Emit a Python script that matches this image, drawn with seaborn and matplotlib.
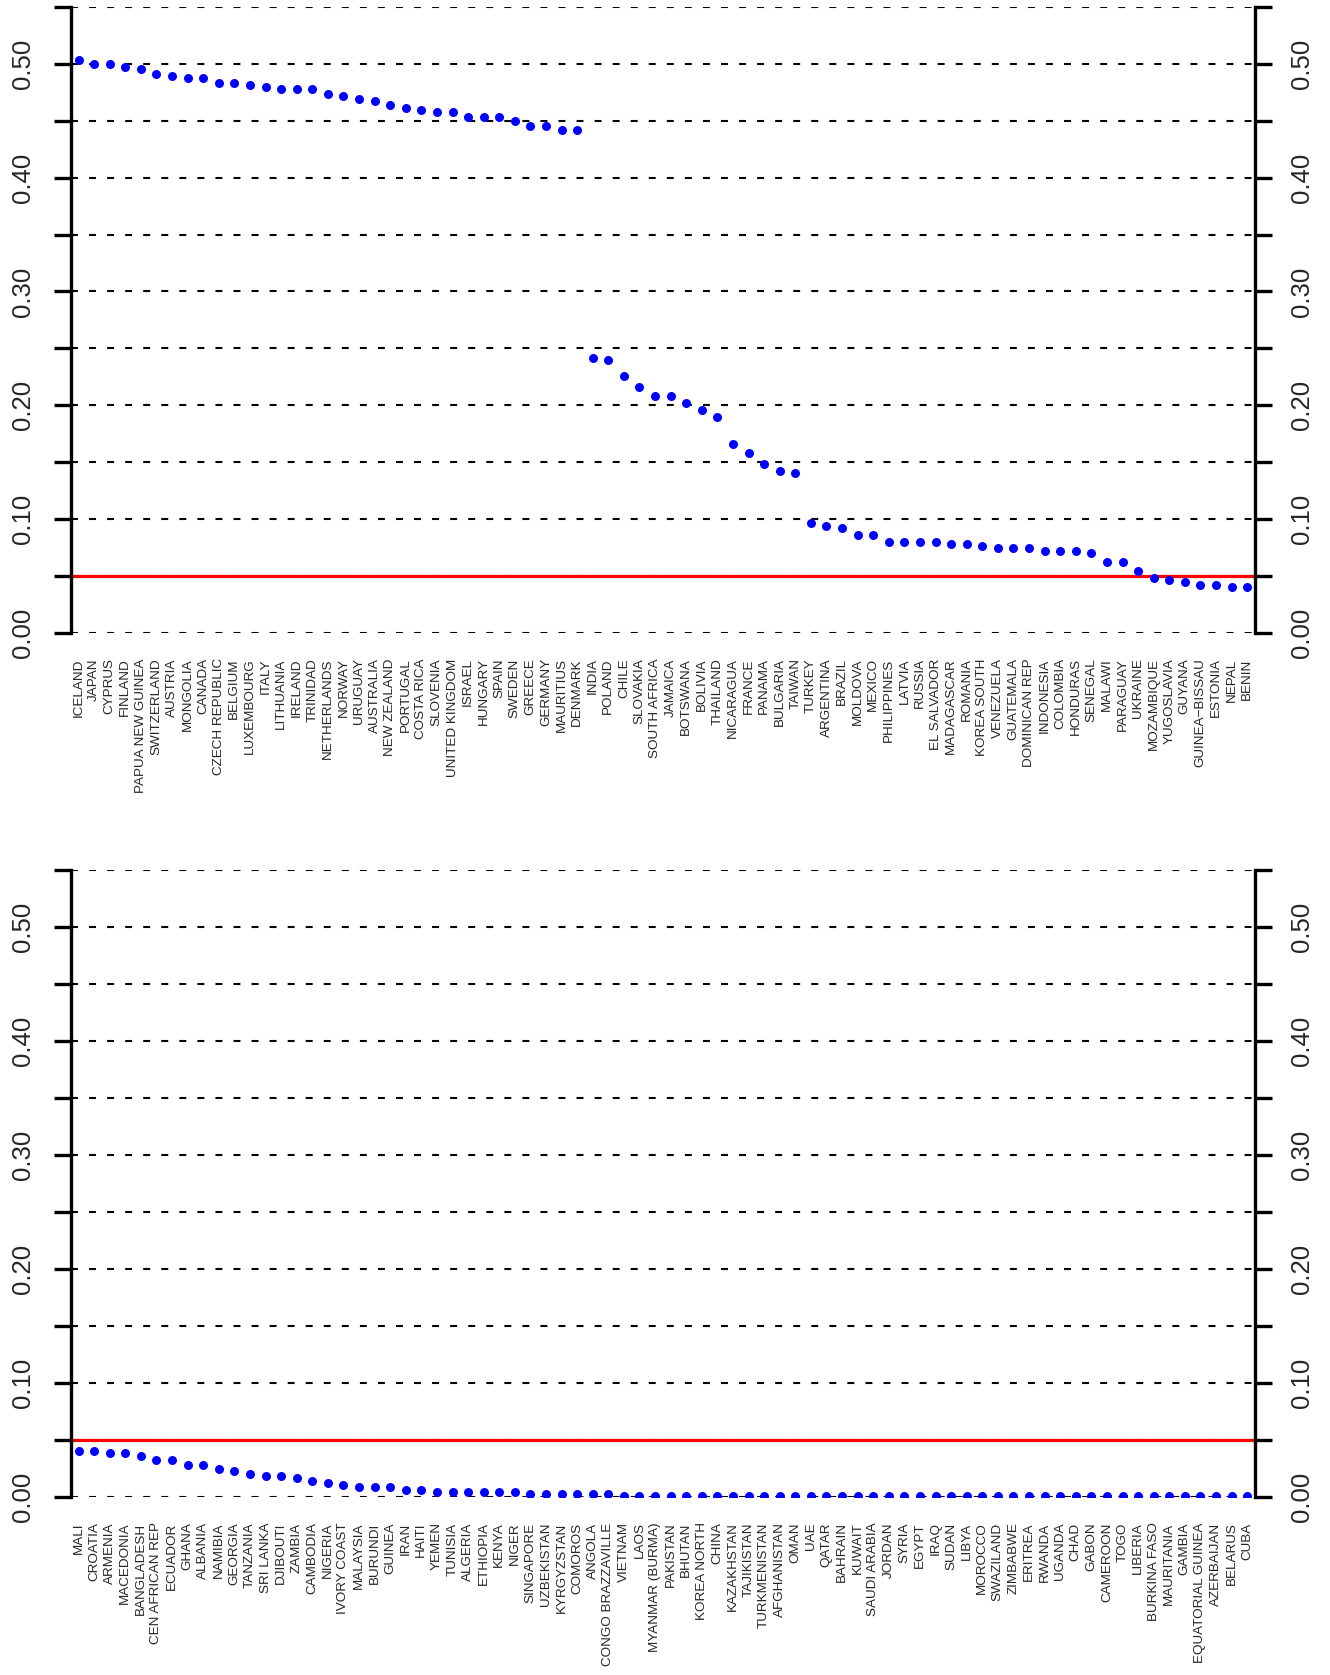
import numpy as np
import pandas as pd
import matplotlib
matplotlib.use("Agg")
import matplotlib.pyplot as plt
import seaborn as sns

# Countries ordered by value, split over two panels
top_countries = [
    "ICELAND", "JAPAN", "CYPRUS", "FINLAND", "PAPUA NEW GUINEA", "SWITZERLAND",
    "AUSTRIA", "MONGOLIA", "CANADA", "CZECH REPUBLIC", "BELGIUM", "LUXEMBOURG",
    "ITALY", "LITHUANIA", "IRELAND", "TRINIDAD", "NETHERLANDS", "NORWAY",
    "URUGUAY", "AUSTRALIA", "NEW ZEALAND", "PORTUGAL", "COSTA RICA", "SLOVENIA",
    "UNITED KINGDOM", "ISRAEL", "HUNGARY", "SPAIN", "SWEDEN", "GREECE",
    "GERMANY", "MAURITIUS", "DENMARK", "INDIA", "POLAND", "CHILE", "SLOVAKIA",
    "SOUTH AFRICA", "JAMAICA", "BOTSWANA", "BOLIVIA", "THAILAND", "NICARAGUA",
    "FRANCE", "PANAMA", "BULGARIA", "TAIWAN", "TURKEY", "ARGENTINA", "BRAZIL",
    "MOLDOVA", "MEXICO", "PHILIPPINES", "LATVIA", "RUSSIA", "EL SALVADOR",
    "MADAGASCAR", "ROMANIA", "KOREA SOUTH", "VENEZUELA", "GUATEMALA",
    "DOMINICAN REP", "INDONESIA", "COLOMBIA", "HONDURAS", "SENEGAL", "MALAWI",
    "PARAGUAY", "UKRAINE", "MOZAMBIQUE", "YUGOSLAVIA", "GUYANA",
    "GUINEA\u2212BISSAU", "ESTONIA", "NEPAL", "BENIN",
]
top_values = [
    0.504, 0.500, 0.500, 0.497, 0.496, 0.4915, 0.4895, 0.488, 0.488, 0.4836,
    0.4836, 0.4816, 0.4798, 0.4784, 0.4784, 0.4784, 0.4737, 0.4722, 0.4696,
    0.4678, 0.4643, 0.4617, 0.4599, 0.4582, 0.4582, 0.4538, 0.4538, 0.4538,
    0.4503, 0.4459, 0.4459, 0.4424, 0.4424,
    0.2415, 0.2397, 0.2259, 0.2159, 0.2083, 0.2083, 0.2021, 0.1960, 0.1898,
    0.1660, 0.1581, 0.1484, 0.1420, 0.1405,
    0.0965, 0.0938, 0.0920, 0.0859, 0.0859, 0.0797, 0.0797, 0.0797, 0.0797,
    0.0780, 0.0780, 0.0762, 0.0742, 0.0742, 0.0742, 0.0718, 0.0718, 0.0718,
    0.0703, 0.0621, 0.0621, 0.0541, 0.0479, 0.0462, 0.0444, 0.0415, 0.0415,
    0.0400, 0.0400,
]

bottom_countries = [
    "MALI", "CROATIA", "ARMENIA", "MACEDONIA", "BANGLADESH", "CEN AFRICAN REP",
    "ECUADOR", "GHANA", "ALBANIA", "NAMIBIA", "GEORGIA", "TANZANIA",
    "SRI LANKA", "DJIBOUTI", "ZAMBIA", "CAMBODIA", "NIGERIA", "IVORY COAST",
    "MALAYSIA", "BURUNDI", "GUINEA", "IRAN", "HAITI", "YEMEN", "TUNISIA",
    "ALGERIA", "ETHIOPIA", "KENYA", "NIGER", "SINGAPORE", "UZBEKISTAN",
    "KYRGYZSTAN", "COMOROS", "ANGOLA", "CONGO BRAZZAVILLE", "VIETNAM", "LAOS",
    "MYANMAR (BURMA)", "PAKISTAN", "BHUTAN", "KOREA NORTH", "CHINA",
    "KAZAKHSTAN", "TAJIKISTAN", "TURKMENISTAN", "AFGHANISTAN", "OMAN", "UAE",
    "QATAR", "BAHRAIN", "KUWAIT", "SAUDI ARABIA", "JORDAN", "SYRIA", "EGYPT",
    "IRAQ", "SUDAN", "LIBYA", "MOROCCO", "SWAZILAND", "ZIMBABWE", "ERITREA",
    "RWANDA", "UGANDA", "CHAD", "GABON", "CAMEROON", "TOGO", "LIBERIA",
    "BURKINA FASO", "MAURITANIA", "GAMBIA", "EQUATORIAL GUINEA", "AZERBAIJAN",
    "BELARUS", "CUBA",
]
bottom_values = [
    0.0401, 0.0401, 0.0386, 0.0386, 0.0354, 0.0322, 0.0322, 0.0275, 0.0275,
    0.0240, 0.0225, 0.0196, 0.0178, 0.0178, 0.0161, 0.0137, 0.0117, 0.0099,
    0.0085, 0.0085, 0.0085, 0.0058, 0.0058,
    0.0041, 0.0041, 0.0041, 0.0041, 0.0041, 0.0041,
    0.0023, 0.0023, 0.0023, 0.0023, 0.0023, 0.0023,
    0.0006, 0.0006, 0.0006, 0.0006, 0.0006,
    0.0002, 0.0002, 0.0002, 0.0002, 0.0002, 0.0002, 0.0002, 0.0002, 0.0002,
    0.0002, 0.0002, 0.0002, 0.0002, 0.0002, 0.0002, 0.0002, 0.0002, 0.0002,
    0.0002, 0.0002, 0.0002, 0.0002, 0.0002, 0.0002, 0.0002, 0.0002, 0.0002,
    0.0002, 0.0002, 0.0002, 0.0002, 0.0002, 0.0002, 0.0002, 0.0002, 0.0002,
]

y_ticks = [0.00, 0.05, 0.10, 0.15, 0.20, 0.25, 0.30, 0.35, 0.40, 0.45, 0.50, 0.55]
y_labels = ["0.00", "", "0.10", "", "0.20", "", "0.30", "", "0.40", "", "0.50", ""]
threshold = 0.05

sns.set_style("white")
plt.rcParams['font.family'] = ['Liberation Sans', 'DejaVu Sans']
plt.rcParams['lines.scale_dashes'] = False


def draw_panel(ax, countries, values):
    df = pd.DataFrame({"country": countries, "value": values})
    df["pos"] = np.arange(len(df))

    # dashed reference lines and the red threshold
    for yv in y_ticks:
        ax.axhline(yv, color="black", lw=1.5, ls=(0, (5, 8)), zorder=1)
    ax.axhline(threshold, color="red", lw=2.3, zorder=2)

    sns.scatterplot(data=df, x="pos", y="value", ax=ax, color="blue", s=42,
                    linewidth=0, zorder=3, legend=False)

    ax.set_xlim(-0.5, len(df) - 0.5)
    ax.set_ylim(0, 0.55)
    ax.set_xlabel("")
    ax.set_ylabel("")

    ax.set_xticks(df["pos"])
    ax.set_xticklabels(df["country"], rotation=90, fontsize=9.7)
    ax.tick_params(axis="x", length=0, pad=18.5)

    ax.set_yticks(y_ticks)
    ax.set_yticklabels(y_labels, rotation=90, fontsize=18.5, va="center")
    ax.tick_params(axis="y", left=True, right=True, labelleft=True,
                   labelright=True, direction="out", length=12.5, width=2.4,
                   color="black", pad=13)

    for side in ["top", "bottom"]:
        ax.spines[side].set_visible(False)
    for side in ["left", "right"]:
        ax.spines[side].set_linewidth(2.4)
        ax.spines[side].set_color("black")


fig = plt.figure(figsize=(13.3, 16.75), dpi=100)
ax_top = fig.add_axes([0.0532, 0.6223, 0.8904, 0.3734])
ax_bot = fig.add_axes([0.0532, 0.10645, 0.8904, 0.3743])

draw_panel(ax_top, top_countries, top_values)
draw_panel(ax_bot, bottom_countries, bottom_values)

fig.savefig("out.png", dpi=100, facecolor="white")
